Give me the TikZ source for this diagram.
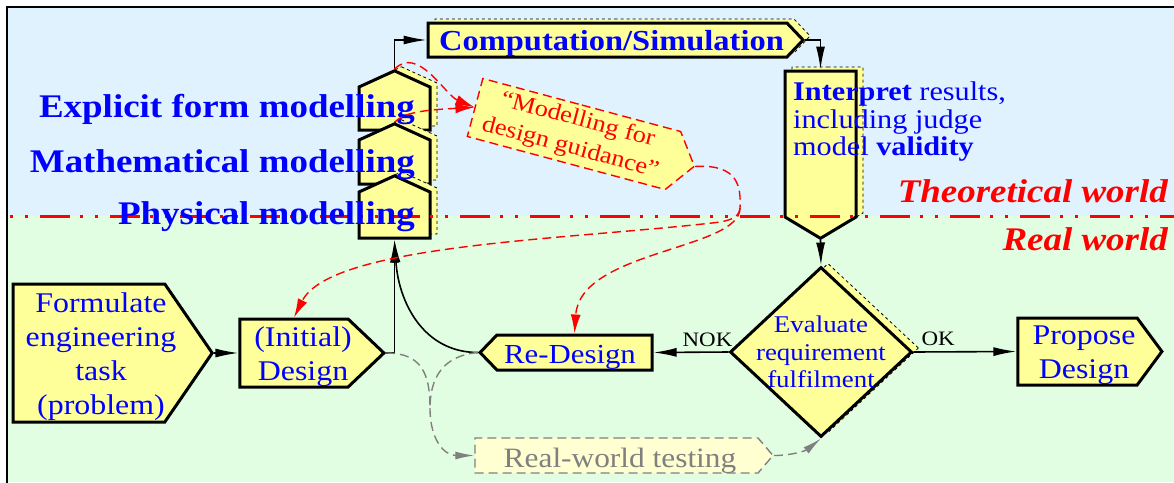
\documentclass[tikz,border=0pt]{standalone}
\usepackage{fontspec}
\setmainfont{Liberation Serif}[FakeStretch=1.12]
\usetikzlibrary{shapes.symbols,shapes.geometric,shadows,arrows.meta}

\definecolor{boxyellow}{RGB}{255,255,153}
\definecolor{testyellow}{RGB}{255,255,210}
\definecolor{skyback}{RGB}{224,242,254}
\definecolor{groundback}{RGB}{226,254,226}
\definecolor{testgrey}{RGB}{128,128,128}

\tikzset{
  stepbox/.style={signal, signal from=nowhere, draw=black, line width=3pt,
    fill=boxyellow, inner sep=0pt},
  modelbox/.style={stepbox, shadowed, signal to=north, signal pointer angle=131,
    minimum width=71pt},
  shadowed/.style={copy shadow={shadow xshift=7pt, shadow yshift=4pt,
    fill=boxyellow, draw=black, dashed, line width=0.8pt}},
  steptext/.style={text=blue, inner sep=0pt, align=center,
    font=\fontsize{28.5}{34}\selectfont},
  modeltext/.style={text=blue, inner sep=0pt, anchor=base east,
    font=\fontsize{33}{36}\selectfont\bfseries},
  worldtext/.style={text=red, inner sep=0pt, anchor=base east,
    font=\fontsize{33}{36}\selectfont\bfseries\itshape},
  flow/.style={line width=1.6pt, -{Latex[length=23pt,width=9pt]}},
  guideflow/.style={red, line width=1.4pt, dash pattern=on 9pt off 5pt,
    -{Latex[length=19pt,width=10pt]}},
  testflow/.style={testgrey, line width=1.4pt, dash pattern=on 9pt off 5pt,
    -{Latex[length=19pt,width=8pt]}},
}

\begin{document}
\begin{tikzpicture}[x=1pt, y=-1pt]
  \useasboundingbox (0,0) rectangle (1174,482);

  % the two worlds
  \fill[skyback] (7,7) rectangle (1174,216);
  \fill[groundback] (7,216) rectangle (1174,482);
  \draw[line width=2pt] (7,7) rectangle (1184,492);

  % modelling steps
  \node[modelbox, minimum height=43pt] (expl) at (394.5,108.5) {};
  \node[modelbox, minimum height=44pt] (math) at (394.5,162) {};
  \node[modelbox, minimum height=46pt] (phys) at (394.5,215) {};

  \node[stepbox, shadowed, signal to=east, signal pointer angle=93,
        minimum width=375pt, minimum height=34pt] (comp) at (607.5,40) {};
  \node[stepbox, shadowed, signal to=south, signal pointer angle=118,
        minimum width=71pt, minimum height=146pt] (interp) at (820.5,144) {};
  \node[diamond, draw=black, line width=3pt, fill=boxyellow, shadowed,
        inner sep=0pt, minimum width=182pt, minimum height=170pt] (eval) at (821,352) {};

  % design steps
  \node[stepbox, signal to=east, signal pointer angle=111,
        minimum width=199pt, minimum height=138pt] (form) at (89,353) {};
  \node[stepbox, signal to=east, signal pointer angle=87,
        minimum width=144pt, minimum height=68pt] (init) at (294,353) {};
  \node[stepbox, signal to=west, signal pointer angle=92,
        minimum width=172pt, minimum height=35pt] (redes) at (574.5,352.5) {};
  \node[stepbox, signal to=east, signal pointer angle=107,
        minimum width=144pt, minimum height=67pt] (prop) at (1077.5,351.5) {};

  \node[signal, signal from=nowhere, signal to=east, signal pointer angle=107,
        draw=red, line width=1.4pt, dash pattern=on 9pt off 5pt, fill=boxyellow,
        rotate=-15, minimum width=227pt, minimum height=60pt, inner sep=0pt,
        text=red, align=center, font=\fontsize{23.5}{29}\selectfont]
        (guide) at (574,134) {“Modelling for\\design guidance”};
  \node[signal, signal from=nowhere, signal to=east, signal pointer angle=99,
        draw=testgrey, line width=1.4pt, dash pattern=on 9pt off 5pt,
        fill=testyellow, minimum width=298pt, minimum height=35pt,
        inner sep=0pt] (test) at (616.5,455.5) {};

  % border between theory and reality
  \coordinate (worldW) at (7,216);
  \coordinate (worldE) at (1174,216);
  \draw[red, line width=3pt, dash phase=67pt,
        dash pattern=on 3pt off 12pt on 3pt off 12pt on 30pt off 10pt]
        (worldW) -- (worldE);

  % texts
  \node[steptext] (formtext) at (101,357) {Formulate\\engineering\\task\\(problem)};
  \node[steptext] (inittext) at (303,356.5) {(Initial)\\Design};
  \node[steptext, anchor=base, font=\fontsize{27.5}{34}\selectfont]
        (redestext) at (570,363) {Re-Design};
  \node[steptext] (proptext) at (1084,355) {Propose\\Design};
  \node[modeltext] (expltext) at (415,117) {Explicit form modelling};
  \node[modeltext] (mathtext) at (415,172) {Mathematical modelling};
  \node[modeltext] (phystext) at (415,224) {Physical modelling};
  \node[text=blue, anchor=base, inner sep=0pt,
        font=\fontsize{29}{34}\selectfont\bfseries]
        (comptext) at (611.5,50) {Computation/Simulation};
  \node[text=blue, anchor=north west, inner sep=0pt, align=left,
        font=\fontsize{27}{27.5}\selectfont]
        (interptext) at (793,82) {\textbf{Interpret} results,\\including judge\\model \textbf{validity}};
  \node[text=blue, inner sep=0pt, align=center, font=\fontsize{24}{27.5}\selectfont]
        (evaltext) at (821,352) {Evaluate\\requirement\\fulfilment};
  \node[text=testgrey, anchor=base, inner sep=0pt, font=\fontsize{28}{34}\selectfont]
        (testtext) at (620,467) {Real-world testing};
  \node[worldtext] (theory) at (1168,202) {Theoretical world};
  \node[worldtext] (real) at (1168,250) {Real world};

  % flow
  \draw[flow] (form.east) -- (init.west);
  \draw[flow] (init.east) -| (phys.south);
  \draw[flow] (redes.west) .. controls +(-55,0) and +(4,62) .. (phys.south);
  \draw[flow] (expl.north) |- (comp.west);
  \draw[flow] (comp.east) -| (interp.north);
  \draw[flow] (interp.south) -- (eval.north);
  \draw[flow] (eval.west) -- node[pos=0.28, above=5pt, inner sep=0pt,
        font=\fontsize{20.5}{24}\selectfont] (nok) {NOK} (redes.east);
  \draw[flow] (eval.east) -- node[pos=0.24, above=5pt, inner sep=0pt,
        font=\fontsize{20.5}{24}\selectfont] (ok) {OK} (prop.west);

  % modelling for design guidance
  \draw[guideflow] (expl.north) .. controls (418,45) and (445,95) .. (guide.west);
  \draw[guideflow] (math.north) .. controls (405,112) and (425,110) .. (guide.west);
  \coordinate (guidesplit) at (740,208);
  \draw[guideflow, -] (guide.east) .. controls (738,164) and (741,186) .. (guidesplit);
  \draw[guideflow] (guidesplit) .. controls (739,218) and (730,221) .. (712,223)
        .. controls (560,240) and (330,245) .. (init.north);
  \draw[guideflow] (guidesplit) .. controls (740,250) and (580,250) .. (redes.north);

  % real-world testing
  \coordinate (testjoin) at (430,408);
  \draw[testflow, -] (init.east) .. controls +(35,0) and +(0,-35) .. (testjoin);
  \draw[testflow, -] (redes.west) .. controls +(-35,3) and +(0,-30) .. (testjoin);
  \draw[testflow] (testjoin) .. controls +(0,32) and +(-30,0) .. (test.west);
  \draw[testflow] (test.east) .. controls +(18,0) and +(-15,12) .. (eval.south);
\end{tikzpicture}
\end{document}
